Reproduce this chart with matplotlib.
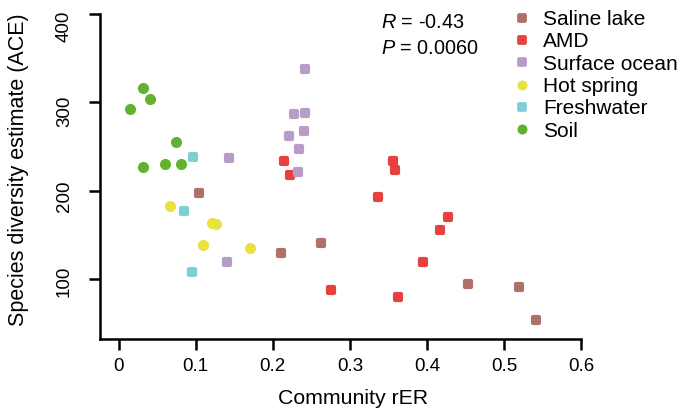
#!/usr/bin/env python3
"""Species diversity (ACE) vs community rER, coloured by habitat."""

import matplotlib

matplotlib.use("Agg")
import matplotlib.pyplot as plt
import matplotlib.transforms as mtransforms
from matplotlib.lines import Line2D
from matplotlib.markers import MarkerStyle

plt.rcParams["font.family"] = ["Liberation Sans", "DejaVu Sans"]
plt.rcParams["mathtext.fontset"] = "custom"
plt.rcParams["mathtext.rm"] = "Liberation Sans"
plt.rcParams["mathtext.it"] = "Liberation Sans:italic"

# data
saline_x = [0.104, 0.211, 0.263, 0.453, 0.520, 0.541]
saline_y = [197.5, 130, 141.4, 93.9, 91.3, 54]

amd_x = [0.214, 0.2225, 0.356, 0.359, 0.337, 0.428, 0.417, 0.395, 0.275, 0.363]
amd_y = [233.7, 217.5, 233.7, 223.5, 193, 170.4, 155.4, 118.8, 87.6, 79.2]

ocean_x = [0.242, 0.228, 0.242, 0.241, 0.2216, 0.2338, 0.233, 0.1437, 0.1406]
ocean_y = [337.6, 286.8, 287.6, 267.2, 261.6, 247.2, 220.9, 237.4, 119.2]

hot_x = [0.066, 0.121, 0.126, 0.109, 0.170]
hot_y = [182.8, 163.5, 162.5, 138.8, 135]

fresh_x = [0.097, 0.085, 0.095]
fresh_y = [238.2, 177.2, 108.2]

soil_x = [0.031, 0.041, 0.015, 0.074, 0.031, 0.060, 0.0805]
soil_y = [316.5, 303.4, 292.4, 255.5, 227.2, 230.6, 230.6]

groups = ["Saline lake", "AMD", "Surface ocean", "Hot spring", "Freshwater", "Soil"]
colors = ["#B0706A", "#E8413C", "#B89CC8", "#E8E23C", "#7ECFD3", "#62B22F"]
shapes = ["s", "s", "s", "o", "s", "o"]
xs = [saline_x, amd_x, ocean_x, hot_x, fresh_x, soil_x]
ys = [saline_y, amd_y, ocean_y, hot_y, fresh_y, soil_y]

x_ticks = [0, 0.1, 0.2, 0.3, 0.4, 0.5, 0.6]
x_ticklabels = ["0", "0.1", "0.2", "0.3", "0.4", "0.5", "0.6"]
y_ticks = [100, 200, 300, 400]

W, H = 685, 416
fig = plt.figure(figsize=(W / 100, H / 100), dpi=100)
ax = fig.add_axes([100 / W, (H - 339) / H, 481 / W, 325 / H])

handles = []
for name, c, m, x, y in zip(groups, colors, shapes, xs, ys):
    if m == "s":
        # rounded square: small square with a thick round-joined edge
        mk = MarkerStyle("s", joinstyle="round")
        ms, mew = 5.0, 3.0
    else:
        mk = MarkerStyle("o")
        ms, mew = 8.0, 0.0
    ax.plot(x, y, ls="none", marker=mk, ms=ms, mew=mew, mfc=c, mec=c)
    handles.append(Line2D([], [], ls="none", marker=mk, ms=ms * 0.9,
                          mew=mew * 0.9, mfc=c, mec=c, label=name))

ax.set_xlim(-0.0243, 0.6)
ax.set_ylim(32.2, 400)
ax.set_xticks(x_ticks)
ax.set_xticklabels(x_ticklabels)
ax.set_yticks(y_ticks)
ax.tick_params(axis="both", direction="out", length=8, width=1.8,
               labelsize=13.5, color="black")
ax.tick_params(axis="x", pad=6)
ax.tick_params(axis="y", pad=11.5)

# y labels sit a little below their ticks in the original
nudge = {100: 2, 200: 5.5, 300: 8.5, 400: 12}
for val, lab in zip(y_ticks, ax.get_yticklabels()):
    lab.set_rotation(90)
    lab.set_va("center")
    off = mtransforms.ScaledTranslation(0, -nudge[val] / 100, fig.dpi_scale_trans)
    lab.set_transform(lab.get_transform() + off)

for s in ["top", "right"]:
    ax.spines[s].set_visible(False)
for s in ["left", "bottom"]:
    ax.spines[s].set_linewidth(1.8)

ax.set_xlabel("Community rER", fontsize=15.3)
ax.xaxis.set_label_coords((353 - 100) / 481, (339 - 389) / 325)
ax.set_ylabel("Species diversity estimate (ACE)", fontsize=15.5)
ax.yaxis.set_label_coords((29 - 100) / 481, (339 - 170) / 325)

fig.text(381 / W, 1 - 27.5 / H, "$R$ = -0.43", fontsize=14.3, va="baseline")
fig.text(381 / W, 1 - 53.5 / H, "$P$ = 0.0060", fontsize=14.3, va="baseline")

fig.legend(handles=handles, loc="upper left",
           bbox_to_anchor=(514 / W, 1 - 10 / H), frameon=False,
           fontsize=15, handlelength=0.8, handletextpad=0.6,
           labelspacing=0.16, borderaxespad=0, borderpad=0)

fig.savefig("out.png", dpi=100)
